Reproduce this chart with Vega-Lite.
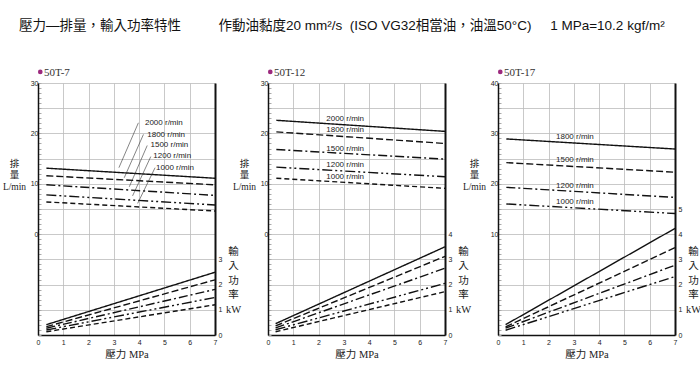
{
  "$schema": "https://vega.github.io/schema/vega-lite/v6.json",
  "padding": {"left": 2, "top": 19, "right": 5, "bottom": 5},
  "background": "white",
  "config": {"view": {"stroke": null}, "concat": {"spacing": 53}},
  "title": {
    "text": "壓力—排量，輸入功率特性\u00a0\u00a0\u00a0\u00a0\u00a0\u00a0\u00a0\u00a0\u00a0\u00a0作動油黏度20 mm²/s\u00a0\u00a0(ISO VG32相當油，油溫50°C)\u00a0\u00a0\u00a0\u00a0\u00a01 MPa=10.2 kgf/m²",
    "anchor": "start", "frame": "group", "dx": -19, "offset": 34,
    "font": "Liberation Sans, Noto Sans CJK TC", "fontSize": 13.5, "fontWeight": "normal", "color": "#111"
  },
  "bounds": "flush",
  "resolve": {"scale": {"strokeDash": "independent"}},
  "datasets": {
    "flow": [
      {"panel": "50T-7", "rpm": "2000", "pressure": 0.33, "flow": 13.1},
      {"panel": "50T-7", "rpm": "2000", "pressure": 7, "flow": 11.1},
      {"panel": "50T-7", "rpm": "1800", "pressure": 0.33, "flow": 11.6},
      {"panel": "50T-7", "rpm": "1800", "pressure": 7, "flow": 9.8},
      {"panel": "50T-7", "rpm": "1500", "pressure": 0.33, "flow": 9.8},
      {"panel": "50T-7", "rpm": "1500", "pressure": 7, "flow": 7.7},
      {"panel": "50T-7", "rpm": "1200", "pressure": 0.33, "flow": 7.8},
      {"panel": "50T-7", "rpm": "1200", "pressure": 7, "flow": 5.8},
      {"panel": "50T-7", "rpm": "1000", "pressure": 0.33, "flow": 6.4},
      {"panel": "50T-7", "rpm": "1000", "pressure": 7, "flow": 4.6},
      {"panel": "50T-12", "rpm": "2000", "pressure": 0.33, "flow": 22.6},
      {"panel": "50T-12", "rpm": "2000", "pressure": 7, "flow": 20.4},
      {"panel": "50T-12", "rpm": "1800", "pressure": 0.33, "flow": 20.3},
      {"panel": "50T-12", "rpm": "1800", "pressure": 7, "flow": 18.0},
      {"panel": "50T-12", "rpm": "1500", "pressure": 0.33, "flow": 16.8},
      {"panel": "50T-12", "rpm": "1500", "pressure": 7, "flow": 14.9},
      {"panel": "50T-12", "rpm": "1200", "pressure": 0.33, "flow": 13.3},
      {"panel": "50T-12", "rpm": "1200", "pressure": 7, "flow": 11.4},
      {"panel": "50T-12", "rpm": "1000", "pressure": 0.33, "flow": 11.1},
      {"panel": "50T-12", "rpm": "1000", "pressure": 7, "flow": 9.1},
      {"panel": "50T-17", "rpm": "1800", "pressure": 0.33, "flow": 28.9},
      {"panel": "50T-17", "rpm": "1800", "pressure": 7, "flow": 26.9},
      {"panel": "50T-17", "rpm": "1500", "pressure": 0.33, "flow": 24.2},
      {"panel": "50T-17", "rpm": "1500", "pressure": 7, "flow": 22.3},
      {"panel": "50T-17", "rpm": "1200", "pressure": 0.33, "flow": 19.3},
      {"panel": "50T-17", "rpm": "1200", "pressure": 7, "flow": 17.3},
      {"panel": "50T-17", "rpm": "1000", "pressure": 0.33, "flow": 16.0},
      {"panel": "50T-17", "rpm": "1000", "pressure": 7, "flow": 14.1}
    ],
    "power": [
      {"panel": "50T-7", "rpm": "2000", "pressure": 0.33, "power": 0.41},
      {"panel": "50T-7", "rpm": "2000", "pressure": 7, "power": 2.49},
      {"panel": "50T-7", "rpm": "1800", "pressure": 0.33, "power": 0.33},
      {"panel": "50T-7", "rpm": "1800", "pressure": 7, "power": 2.19},
      {"panel": "50T-7", "rpm": "1500", "pressure": 0.33, "power": 0.27},
      {"panel": "50T-7", "rpm": "1500", "pressure": 7, "power": 1.81},
      {"panel": "50T-7", "rpm": "1200", "pressure": 0.33, "power": 0.2},
      {"panel": "50T-7", "rpm": "1200", "pressure": 7, "power": 1.49},
      {"panel": "50T-7", "rpm": "1000", "pressure": 0.33, "power": 0.13},
      {"panel": "50T-7", "rpm": "1000", "pressure": 7, "power": 1.2},
      {"panel": "50T-12", "rpm": "2000", "pressure": 0.3, "power": 0.45},
      {"panel": "50T-12", "rpm": "2000", "pressure": 7, "power": 3.5},
      {"panel": "50T-12", "rpm": "1800", "pressure": 0.3, "power": 0.36},
      {"panel": "50T-12", "rpm": "1800", "pressure": 7, "power": 3.12},
      {"panel": "50T-12", "rpm": "1500", "pressure": 0.3, "power": 0.28},
      {"panel": "50T-12", "rpm": "1500", "pressure": 7, "power": 2.65},
      {"panel": "50T-12", "rpm": "1200", "pressure": 0.3, "power": 0.21},
      {"panel": "50T-12", "rpm": "1200", "pressure": 7, "power": 2.05},
      {"panel": "50T-12", "rpm": "1000", "pressure": 0.3, "power": 0.13},
      {"panel": "50T-12", "rpm": "1000", "pressure": 7, "power": 1.72},
      {"panel": "50T-17", "rpm": "1800", "pressure": 0.3, "power": 0.41},
      {"panel": "50T-17", "rpm": "1800", "pressure": 7, "power": 4.23},
      {"panel": "50T-17", "rpm": "1500", "pressure": 0.3, "power": 0.32},
      {"panel": "50T-17", "rpm": "1500", "pressure": 7, "power": 3.47},
      {"panel": "50T-17", "rpm": "1200", "pressure": 0.3, "power": 0.27},
      {"panel": "50T-17", "rpm": "1200", "pressure": 7, "power": 2.77},
      {"panel": "50T-17", "rpm": "1000", "pressure": 0.3, "power": 0.19},
      {"panel": "50T-17", "rpm": "1000", "pressure": 7, "power": 2.32}
    ],
    "labels": [
      {"panel": "50T-7", "rpm": "2000", "pressure": 4.23, "flow": 22.0, "label": "2000 r/min"},
      {"panel": "50T-7", "rpm": "1800", "pressure": 4.32, "flow": 19.6, "label": "1800 r/min"},
      {"panel": "50T-7", "rpm": "1500", "pressure": 4.45, "flow": 17.6, "label": "1500 r/min"},
      {"panel": "50T-7", "rpm": "1200", "pressure": 4.56, "flow": 15.5, "label": "1200 r/min"},
      {"panel": "50T-7", "rpm": "1000", "pressure": 4.67, "flow": 13.2, "label": "1000 r/min"},
      {"panel": "50T-12", "rpm": "2000", "pressure": 3.05, "flow": 22.8, "label": "2000 r/min"},
      {"panel": "50T-12", "rpm": "1800", "pressure": 3.05, "flow": 20.6, "label": "1800 r/min"},
      {"panel": "50T-12", "rpm": "1500", "pressure": 3.05, "flow": 17.0, "label": "1500 r/min"},
      {"panel": "50T-12", "rpm": "1200", "pressure": 3.05, "flow": 13.7, "label": "1200 r/min"},
      {"panel": "50T-12", "rpm": "1000", "pressure": 3.05, "flow": 11.3, "label": "1000 r/min"},
      {"panel": "50T-17", "rpm": "1800", "pressure": 3.04, "flow": 29.2, "label": "1800 r/min"},
      {"panel": "50T-17", "rpm": "1500", "pressure": 3.04, "flow": 24.7, "label": "1500 r/min"},
      {"panel": "50T-17", "rpm": "1200", "pressure": 3.04, "flow": 19.5, "label": "1200 r/min"},
      {"panel": "50T-17", "rpm": "1000", "pressure": 3.04, "flow": 16.4, "label": "1000 r/min"}
    ],
    "leaders": [
      {"rpm": "2000", "pressure": 3.97, "flow": 22.1},
      {"rpm": "2000", "pressure": 3.2, "flow": 13.2},
      {"rpm": "1800", "pressure": 4.17, "flow": 19.8},
      {"rpm": "1800", "pressure": 3.41, "flow": 11.2},
      {"rpm": "1500", "pressure": 4.32, "flow": 17.6},
      {"rpm": "1500", "pressure": 3.61, "flow": 9.4},
      {"rpm": "1200", "pressure": 4.46, "flow": 15.4},
      {"rpm": "1200", "pressure": 3.74, "flow": 7.6},
      {"rpm": "1000", "pressure": 4.63, "flow": 13.2},
      {"rpm": "1000", "pressure": 3.94, "flow": 6.1}
    ],
    "tags": [
      {"panel": "50T-7", "pressure": 0.09, "flow": 32.2},
      {"panel": "50T-12", "pressure": 0.09, "flow": 32.2},
      {"panel": "50T-17", "pressure": 0.09, "flow": 42.2}
    ]
  },
  "hconcat": [
    {
      "width": 177, "height": 252,
      "title": {"text": "50T-7", "anchor": "start", "frame": "group", "dx": 6, "offset": -8, "font": "Liberation Serif", "fontSize": 11, "fontWeight": "normal", "color": "#333"},
      "encoding": {
        "x": {"field": "pressure", "type": "quantitative", "scale": {"domain": [0, 7], "nice": false},
          "axis": {"values": [0, 1, 2, 3, 4, 5, 6, 7], "labelOverlap": false, "labelFlush": false, "grid": true, "gridColor": "#bbb", "gridWidth": 0.8, "tickSize": 0, "labelPadding": 3, "domainColor": "#111", "domainWidth": 1.5, "labelFont": "Liberation Sans", "labelFontSize": 7, "labelColor": "#222", "title": "壓力 MPa", "titleFont": "Liberation Serif, Noto Sans CJK TC", "titleFontSize": 10.5, "titleFontWeight": "normal", "titleColor": "#222", "titlePadding": 4}}
      },
      "layer": [
        {
          "encoding": {
            "y": {"field": "flow", "type": "quantitative", "scale": {"domain": [-20, 30], "nice": false},
              "axis": {"values": [-20,-19,-18,-17,-16,-15,-14,-13,-12,-11,-10,-9,-8,-7,-6,-5,-4,-3,-2,-1,0,1,2,3,4,5,6,7,8,9,10,11,12,13,14,15,16,17,18,19,20,21,22,23,24,25,26,27,28,29,30],
                "labelOverlap": false, "labelFlush": false, "labelBound": false,
                "labelExpr": "datum.value % 10 === 0 && datum.value >= 0 ? datum.label : ''", "grid": false, "tickSize": -3, "tickColor": "#aaa", "labelPadding": 3, "domainColor": "#111", "domainWidth": 1.5, "labelFont": "Liberation Sans", "labelFontSize": 7, "labelColor": "#222",
                "title": ["排", "量", "L/min"], "titleAngle": 0, "titleAlign": "center", "titleBaseline": "alphabetic", "titleX": -24, "titleY": 83, "titleLineHeight": 11.5, "titleFont": "Liberation Serif, Noto Sans CJK TC", "titleFontSize": 9.5, "titleFontWeight": "normal", "titleColor": "#222"}}
          },
          "layer": [
            {
              "data": {"name": "flow"},
              "transform": [{"filter": "datum.panel === '50T-7'"}],
              "mark": {"type": "line", "color": "#111", "strokeWidth": 1.4},
              "encoding": {
                "strokeDash": {"field": "rpm", "type": "nominal", "scale": {"domain": ["2000", "1800", "1500", "1200", "1000"], "range": [[1, 0], [7, 3], [9, 3, 2, 3], [10, 3, 2, 3, 2, 3], [5, 3]]}, "legend": null}
              }
            },
            {
              "data": {"name": "leaders"},
              "mark": {"type": "line", "color": "#333", "strokeWidth": 0.6},
              "encoding": {"detail": {"field": "rpm"}}
            },
            {
              "data": {"name": "labels"},
              "transform": [{"filter": "datum.panel === '50T-7'"}],
              "mark": {"type": "text", "align": "left", "baseline": "middle", "font": "Liberation Sans", "fontSize": 8, "color": "#222"},
              "encoding": {"text": {"field": "label"}}
            },
            {
              "data": {"name": "tags"},
              "transform": [{"filter": "datum.panel === '50T-7'"}],
              "mark": {"type": "point", "filled": true, "color": "#9c2a7e", "size": 22, "opacity": 1, "clip": false},
              "encoding": {}
            }
          ]
        },
        {
          "data": {"name": "power"},
          "transform": [{"filter": "datum.panel === '50T-7'"}],
          "mark": {"type": "line", "color": "#111", "strokeWidth": 1.4},
          "encoding": {
            "y": {"field": "power", "type": "quantitative", "scale": {"domain": [0, 10], "nice": false},
              "axis": {"orient": "right", "values": [0, 1, 2, 3, 4, 5, 6, 7, 8, 9, 10], "labelOverlap": false, "labelFlush": false, "labelBound": false, "labelExpr": "datum.value <= 3 ? datum.label : ''", "grid": true, "gridColor": "#bbb", "gridWidth": 0.8, "ticks": false, "labelPadding": 3, "domainColor": "#111", "domainWidth": 2, "labelFont": "Liberation Sans", "labelFontSize": 7, "labelColor": "#222",
                "title": ["輸", "入", "功", "率", "kW"], "titleAngle": 0, "titleAlign": "center", "titleBaseline": "alphabetic", "titleX": 18, "titleY": 171, "titleLineHeight": 14.6, "titleFont": "Liberation Serif, Noto Sans CJK TC", "titleFontSize": 10.5, "titleFontWeight": "normal", "titleColor": "#222"}},
            "strokeDash": {"field": "rpm", "type": "nominal", "scale": {"domain": ["2000", "1800", "1500", "1200", "1000"], "range": [[1, 0], [7, 3], [9, 3, 2, 3], [10, 3, 2, 3, 2, 3], [5, 3]]}, "legend": null}
          }
        }
      ],
      "resolve": {"scale": {"y": "independent"}, "axis": {"y": "independent"}}
    },
    {
      "width": 177, "height": 252,
      "title": {"text": "50T-12", "anchor": "start", "frame": "group", "dx": 6, "offset": -8, "font": "Liberation Serif", "fontSize": 11, "fontWeight": "normal", "color": "#333"},
      "encoding": {
        "x": {"field": "pressure", "type": "quantitative", "scale": {"domain": [0, 7], "nice": false},
          "axis": {"values": [0, 1, 2, 3, 4, 5, 6, 7], "labelOverlap": false, "labelFlush": false, "grid": true, "gridColor": "#bbb", "gridWidth": 0.8, "tickSize": 0, "labelPadding": 3, "domainColor": "#111", "domainWidth": 1.5, "labelFont": "Liberation Sans", "labelFontSize": 7, "labelColor": "#222", "title": "壓力 MPa", "titleFont": "Liberation Serif, Noto Sans CJK TC", "titleFontSize": 10.5, "titleFontWeight": "normal", "titleColor": "#222", "titlePadding": 4}}
      },
      "layer": [
        {
          "encoding": {
            "y": {"field": "flow", "type": "quantitative", "scale": {"domain": [-20, 30], "nice": false},
              "axis": {"values": [-20,-19,-18,-17,-16,-15,-14,-13,-12,-11,-10,-9,-8,-7,-6,-5,-4,-3,-2,-1,0,1,2,3,4,5,6,7,8,9,10,11,12,13,14,15,16,17,18,19,20,21,22,23,24,25,26,27,28,29,30],
                "labelOverlap": false, "labelFlush": false, "labelBound": false,
                "labelExpr": "datum.value % 10 === 0 && datum.value >= 0 ? datum.label : ''", "grid": false, "tickSize": -3, "tickColor": "#aaa", "labelPadding": 3, "domainColor": "#111", "domainWidth": 1.5, "labelFont": "Liberation Sans", "labelFontSize": 7, "labelColor": "#222",
                "title": ["排", "量", "L/min"], "titleAngle": 0, "titleAlign": "center", "titleBaseline": "alphabetic", "titleX": -24, "titleY": 83, "titleLineHeight": 11.5, "titleFont": "Liberation Serif, Noto Sans CJK TC", "titleFontSize": 9.5, "titleFontWeight": "normal", "titleColor": "#222"}}
          },
          "layer": [
            {
              "data": {"name": "flow"},
              "transform": [{"filter": "datum.panel === '50T-12'"}],
              "mark": {"type": "line", "color": "#111", "strokeWidth": 1.4},
              "encoding": {
                "strokeDash": {"field": "rpm", "type": "nominal", "scale": {"domain": ["2000", "1800", "1500", "1200", "1000"], "range": [[1, 0], [7, 3], [9, 3, 2, 3], [10, 3, 2, 3, 2, 3], [5, 3]]}, "legend": null}
              }
            },
            {
              "data": {"name": "labels"},
              "transform": [{"filter": "datum.panel === '50T-12'"}],
              "mark": {"type": "text", "align": "center", "baseline": "middle", "font": "Liberation Sans", "fontSize": 8, "color": "#222"},
              "encoding": {"text": {"field": "label"}}
            },
            {
              "data": {"name": "tags"},
              "transform": [{"filter": "datum.panel === '50T-12'"}],
              "mark": {"type": "point", "filled": true, "color": "#9c2a7e", "size": 22, "opacity": 1, "clip": false},
              "encoding": {}
            }
          ]
        },
        {
          "data": {"name": "power"},
          "transform": [{"filter": "datum.panel === '50T-12'"}],
          "mark": {"type": "line", "color": "#111", "strokeWidth": 1.4},
          "encoding": {
            "y": {"field": "power", "type": "quantitative", "scale": {"domain": [0, 10], "nice": false},
              "axis": {"orient": "right", "values": [0, 1, 2, 3, 4, 5, 6, 7, 8, 9, 10], "labelOverlap": false, "labelFlush": false, "labelBound": false, "labelExpr": "datum.value <= 4 ? datum.label : ''", "grid": true, "gridColor": "#bbb", "gridWidth": 0.8, "ticks": false, "labelPadding": 3, "domainColor": "#111", "domainWidth": 2, "labelFont": "Liberation Sans", "labelFontSize": 7, "labelColor": "#222",
                "title": ["輸", "入", "功", "率", "kW"], "titleAngle": 0, "titleAlign": "center", "titleBaseline": "alphabetic", "titleX": 18, "titleY": 171, "titleLineHeight": 14.6, "titleFont": "Liberation Serif, Noto Sans CJK TC", "titleFontSize": 10.5, "titleFontWeight": "normal", "titleColor": "#222"}},
            "strokeDash": {"field": "rpm", "type": "nominal", "scale": {"domain": ["2000", "1800", "1500", "1200", "1000"], "range": [[1, 0], [7, 3], [9, 3, 2, 3], [10, 3, 2, 3, 2, 3], [5, 3]]}, "legend": null}
          }
        }
      ],
      "resolve": {"scale": {"y": "independent"}, "axis": {"y": "independent"}}
    },
    {
      "width": 177, "height": 252,
      "title": {"text": "50T-17", "anchor": "start", "frame": "group", "dx": 6, "offset": -8, "font": "Liberation Serif", "fontSize": 11, "fontWeight": "normal", "color": "#333"},
      "encoding": {
        "x": {"field": "pressure", "type": "quantitative", "scale": {"domain": [0, 7], "nice": false},
          "axis": {"values": [0, 1, 2, 3, 4, 5, 6, 7], "labelOverlap": false, "labelFlush": false, "grid": true, "gridColor": "#bbb", "gridWidth": 0.8, "tickSize": 0, "labelPadding": 3, "domainColor": "#111", "domainWidth": 1.5, "labelFont": "Liberation Sans", "labelFontSize": 7, "labelColor": "#222", "title": "壓力 MPa", "titleFont": "Liberation Serif, Noto Sans CJK TC", "titleFontSize": 10.5, "titleFontWeight": "normal", "titleColor": "#222", "titlePadding": 4}}
      },
      "layer": [
        {
          "encoding": {
            "y": {"field": "flow", "type": "quantitative", "scale": {"domain": [-10, 40], "nice": false},
              "axis": {"values": [-10,-9,-8,-7,-6,-5,-4,-3,-2,-1,0,1,2,3,4,5,6,7,8,9,10,11,12,13,14,15,16,17,18,19,20,21,22,23,24,25,26,27,28,29,30,31,32,33,34,35,36,37,38,39,40],
                "labelOverlap": false, "labelFlush": false, "labelBound": false,
                "labelExpr": "datum.value % 10 === 0 && datum.value >= 10 ? datum.label : ''", "grid": false, "tickSize": -3, "tickColor": "#aaa", "labelPadding": 3, "domainColor": "#111", "domainWidth": 1.5, "labelFont": "Liberation Sans", "labelFontSize": 7, "labelColor": "#222",
                "title": ["排", "量", "L/min"], "titleAngle": 0, "titleAlign": "center", "titleBaseline": "alphabetic", "titleX": -24, "titleY": 83, "titleLineHeight": 11.5, "titleFont": "Liberation Serif, Noto Sans CJK TC", "titleFontSize": 9.5, "titleFontWeight": "normal", "titleColor": "#222"}}
          },
          "layer": [
            {
              "data": {"name": "flow"},
              "transform": [{"filter": "datum.panel === '50T-17'"}],
              "mark": {"type": "line", "color": "#111", "strokeWidth": 1.4},
              "encoding": {
                "strokeDash": {"field": "rpm", "type": "nominal", "scale": {"domain": ["1800", "1500", "1200", "1000"], "range": [[1, 0], [7, 3], [9, 3, 2, 3], [10, 3, 2, 3, 2, 3]]}, "legend": null}
              }
            },
            {
              "data": {"name": "labels"},
              "transform": [{"filter": "datum.panel === '50T-17'"}],
              "mark": {"type": "text", "align": "center", "baseline": "middle", "font": "Liberation Sans", "fontSize": 8, "color": "#222"},
              "encoding": {"text": {"field": "label"}}
            },
            {
              "data": {"name": "tags"},
              "transform": [{"filter": "datum.panel === '50T-17'"}],
              "mark": {"type": "point", "filled": true, "color": "#9c2a7e", "size": 22, "opacity": 1, "clip": false},
              "encoding": {}
            }
          ]
        },
        {
          "data": {"name": "power"},
          "transform": [{"filter": "datum.panel === '50T-17'"}],
          "mark": {"type": "line", "color": "#111", "strokeWidth": 1.4},
          "encoding": {
            "y": {"field": "power", "type": "quantitative", "scale": {"domain": [0, 10], "nice": false},
              "axis": {"orient": "right", "values": [0, 1, 2, 3, 4, 5, 6, 7, 8, 9, 10], "labelOverlap": false, "labelFlush": false, "labelBound": false, "labelExpr": "datum.value <= 5 ? datum.label : ''", "grid": true, "gridColor": "#bbb", "gridWidth": 0.8, "ticks": false, "labelPadding": 3, "domainColor": "#111", "domainWidth": 2, "labelFont": "Liberation Sans", "labelFontSize": 7, "labelColor": "#222",
                "title": ["輸", "入", "功", "率", "kW"], "titleAngle": 0, "titleAlign": "center", "titleBaseline": "alphabetic", "titleX": 18, "titleY": 171, "titleLineHeight": 14.6, "titleFont": "Liberation Serif, Noto Sans CJK TC", "titleFontSize": 10.5, "titleFontWeight": "normal", "titleColor": "#222"}},
            "strokeDash": {"field": "rpm", "type": "nominal", "scale": {"domain": ["1800", "1500", "1200", "1000"], "range": [[1, 0], [7, 3], [9, 3, 2, 3], [10, 3, 2, 3, 2, 3]]}, "legend": null}
          }
        }
      ],
      "resolve": {"scale": {"y": "independent"}, "axis": {"y": "independent"}}
    }
  ]
}
